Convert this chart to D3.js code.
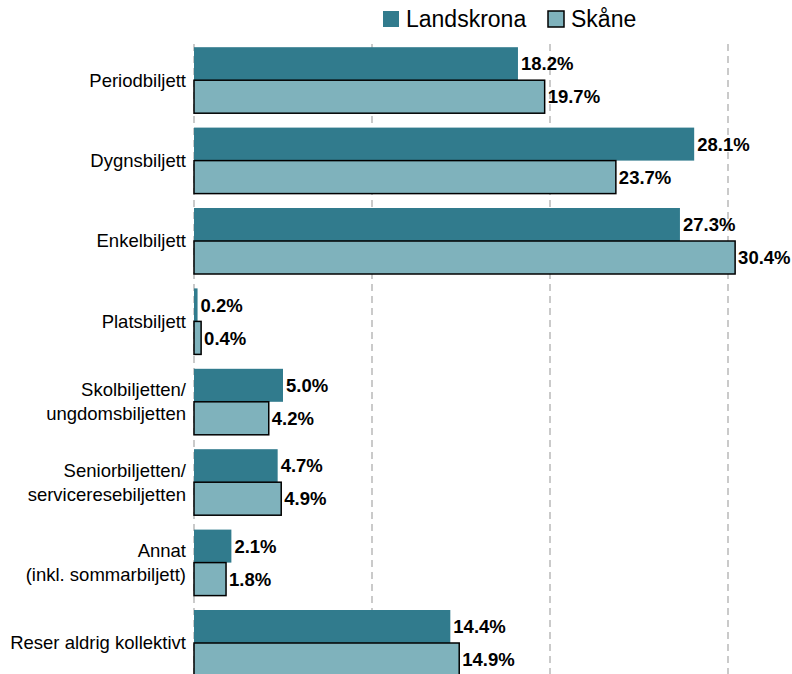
<!DOCTYPE html>
<html>
<head>
<meta charset="utf-8">
<script src="https://cdn.jsdelivr.net/npm/d3@7"></script>
<style>
  body { margin: 0; background: #fff; }
  svg { display: block; font-family: "Liberation Sans", Arial, sans-serif; }
</style>
</head>
<body>
<div id="chart"></div>
<script>
// Ticket types (label lines) and shares per area
var categories = [
    ['Periodbiljett'],
    ['Dygnsbiljett'],
    ['Enkelbiljett'],
    ['Platsbiljett'],
    ['Skolbiljetten/', 'ungdomsbiljetten'],
    ['Seniorbiljetten/', 'serviceresebiljetten'],
    ['Annat', '(inkl. sommarbiljett)'],
    ['Reser aldrig kollektivt']
];
var seriesNames = ['Landskrona', 'Skåne'];
var landskrona = [18.2, 28.1, 27.3, 0.2, 5.0, 4.7, 2.1, 14.4];
var skane = [19.7, 23.7, 30.4, 0.4, 4.2, 4.9, 1.8, 14.9];
var gridTicks = [0, 10, 20, 30];

var colors = { 'Landskrona': '#317b8d', 'Skåne': '#7fb2bc' };

var width = 792, height = 674;
var margin = { top: 40, left: 194 };

var svg = d3.select('#chart').append('svg')
    .attr('width', width)
    .attr('height', height);

var keys = categories.map(function(d) { return d.join(' '); });

// 10% = 178px
var xScale = d3.scaleLinear()
    .domain([0, 10])
    .range([margin.left, margin.left + 178]);

var yScale = d3.scaleBand()
    .domain(keys)
    .range([margin.top, margin.top + 80.4 * keys.length])
    .paddingInner(0)
    .paddingOuter(0);

var inner = d3.scaleBand()
    .domain(seriesNames)
    .range([7.2, 80.4 - 7.2]);

// Grid lines
svg.selectAll('.grid')
    .data(gridTicks)
    .enter()
    .append('line')
    .attr('class', 'grid')
    .attr('x1', function(d) { return xScale(d); })
    .attr('x2', function(d) { return xScale(d); })
    .attr('y1', margin.top + 4)
    .attr('y2', height)
    .attr('stroke', '#b9b9b9')
    .attr('stroke-width', 1.5)
    .attr('stroke-dasharray', '7,5');

var rows = categories.map(function(c, i) {
    return { key: keys[i], lines: c, values: [landskrona[i], skane[i]] };
});

var groups = svg.selectAll('.row')
    .data(rows)
    .enter()
    .append('g')
    .attr('class', 'row')
    .attr('transform', function(d) { return 'translate(0,' + yScale(d.key) + ')'; });

// Bars
groups.selectAll('rect')
    .data(function(d) {
        return d.values.map(function(v, j) { return { name: seriesNames[j], value: v }; });
    })
    .enter()
    .append('rect')
    .attr('x', xScale(0))
    .attr('y', function(d) { return inner(d.name); })
    .attr('width', function(d) { return xScale(d.value) - xScale(0); })
    .attr('height', inner.bandwidth())
    .attr('fill', function(d) { return colors[d.name]; })
    .attr('stroke', function(d) { return d.name === 'Skåne' ? '#000' : 'none'; })
    .attr('stroke-width', 1.5);

// Value labels
groups.selectAll('.val')
    .data(function(d) {
        return d.values.map(function(v, j) { return { name: seriesNames[j], value: v }; });
    })
    .enter()
    .append('text')
    .attr('class', 'val')
    .attr('x', function(d) { return xScale(d.value) + 3; })
    .attr('y', function(d) { return inner(d.name) + inner.bandwidth() / 2; })
    .attr('dy', '0.36em')
    .attr('font-size', '18.5px')
    .attr('font-weight', 'bold')
    .attr('fill', '#000')
    .text(function(d) { return d.value.toFixed(1) + '%'; });

// Category labels
groups.each(function(d) {
    var g = d3.select(this);
    var n = d.lines.length;
    var lh = 24;
    d.lines.forEach(function(line, k) {
        g.append('text')
            .attr('x', margin.left - 8)
            .attr('y', 40.2 + (k - (n - 1) / 2) * lh)
            .attr('dy', '0.35em')
            .attr('text-anchor', 'end')
            .attr('font-size', '18.5px')
            .attr('fill', '#000')
            .text(line);
    });
});

// Legend
var legendItems = [
    { name: 'Landskrona', x: 383 },
    { name: 'Skåne', x: 548 }
];
var legend = svg.selectAll('.legend')
    .data(legendItems)
    .enter()
    .append('g')
    .attr('class', 'legend');

legend.append('rect')
    .attr('x', function(d) { return d.x; })
    .attr('y', 11)
    .attr('width', 16)
    .attr('height', 16)
    .attr('fill', function(d) { return colors[d.name]; })
    .attr('stroke', function(d) { return d.name === 'Skåne' ? '#000' : 'none'; })
    .attr('stroke-width', 1.5);

legend.append('text')
    .attr('x', function(d) { return d.x + 23; })
    .attr('y', 19)
    .attr('dy', '0.36em')
    .attr('font-size', '23px')
    .attr('fill', '#000')
    .text(function(d) { return d.name; });
</script>
</body>
</html>
